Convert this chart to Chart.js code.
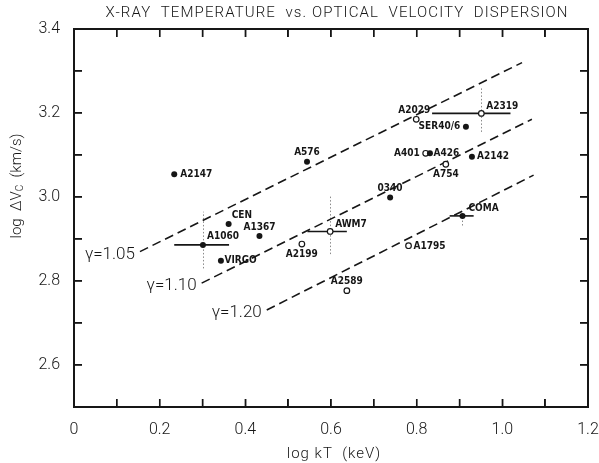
<!DOCTYPE html>
<html>
<head>
<meta charset="utf-8">
<script src="https://cdn.jsdelivr.net/npm/chart.js@4/dist/chart.umd.min.js"></script>
<style>
  html, body { margin: 0; padding: 0; background: #fff; }
  #wrap { position: relative; width: 599px; height: 463px; }
  #wrap canvas { display: block; }
  #box { position: absolute; left: 0; top: 0; width: 0; height: 0;
         border: 2px solid #161616; box-sizing: border-box; pointer-events: none; }
</style>
</head>
<body>
<div id="wrap">
  <canvas id="chart" width="599" height="463"></canvas>
  <div id="box"></div>
</div>
<script>
/* ===== DATA ===== */
const filledNames = ["A2147", "A576", "CEN", "A1060", "A1367", "VIRGO", "0340", "A426", "A2142", "SER40/6", "COMA"];
const filledX = [0.234, 0.544, 0.361, 0.301, 0.433, 0.343, 0.738, 0.831, 0.929, 0.915, 0.907];
const filledY = [3.054, 3.084, 2.936, 2.886, 2.907, 2.848, 2.999, 3.104, 3.096, 3.167, 2.955];

const openNames = ["A2199", "AWM7", "A2589", "A1795", "A401", "A754", "A2029", "A2319"];
const openX = [0.532, 0.598, 0.637, 0.781, 0.821, 0.868, 0.799, 0.951];
const openY = [2.888, 2.918, 2.777, 2.884, 3.104, 3.078, 3.185, 3.199];

// horizontal error bars
const errNames = ["A1060", "AWM7", "COMA", "A2319"];
const errX0 = [0.234, 0.545, 0.877, 0.836];
const errX1 = [0.362, 0.637, 0.933, 1.019];
const errY = [2.886, 2.918, 2.955, 3.199];

// dotted vertical ranges
const dotX = [0.301, 0.598, 0.907, 0.951];
const dotY0 = [2.830, 2.864, 2.932, 3.155];
const dotY1 = [2.965, 3.001, 2.962, 3.263];

// model lines (gamma)
const gammaLabels = ["\u03B3=1.05", "\u03B3=1.10", "\u03B3=1.20"];
const gammaX0 = [0.154, 0.298, 0.450];
const gammaY0 = [2.870, 2.795, 2.731];
const gammaX1 = [1.046, 1.069, 1.073];
const gammaY1 = [3.320, 3.185, 3.052];

const xTicks = ["0", "0.2", "0.4", "0.6", "0.8", "1.0", "1.2"];
const yTicks = ["2.6", "2.8", "3.0", "3.2", "3.4"];

const X_MIN = 0, X_MAX = 1.2, Y_MIN = 2.5, Y_MAX = 3.4;

/* ===== LABEL PLACEMENT (px offsets from the point) ===== */
const labelPlace = {
  "A2147": [6, 0, "left"], "A576": [0, -9, "center"], "CEN": [3, -8.5, "left"],
  "A1060": [4, -8.7, "left"], "A1367": [0, -9, "center"], "VIRGO": [3.5, 0, "left"],
  "0340": [0, -9.5, "center"], "A426": [3.6, 0, "left"], "A2142": [5, 0, "left"],
  "SER40/6": [-5.7, 0, "right"], "COMA": [6, -7.5, "left"],
  "A2199": [0, 10, "center"], "AWM7": [5, -7, "left"], "A2589": [0, -9, "center"],
  "A1795": [5, 1, "left"], "A401": [-6, 0, "right"], "A754": [0, 10.5, "center"],
  "A2029": [-2, -9, "center"], "A2319": [5, -7, "left"]
};

const INK = "#161616";
const LIGHT = "Roboto, 'DejaVu Sans', sans-serif";
const TICK_LEN = -8; // negative = ticks point into the plot

/* ===== PLUGIN ===== */
const figurePlugin = {
  id: "figure",
  beforeDatasetsDraw(chart) {
    const { ctx, scales: { x, y } } = chart;
    ctx.save();
    // dotted vertical ranges
    ctx.strokeStyle = "#8a8a8a";
    ctx.lineWidth = 1;
    ctx.setLineDash([1.5, 2]);
    dotX.forEach((v, i) => {
      const px = Math.round(x.getPixelForValue(v)) + 0.5;
      ctx.beginPath();
      ctx.moveTo(px, y.getPixelForValue(dotY0[i]));
      ctx.lineTo(px, y.getPixelForValue(dotY1[i]));
      ctx.stroke();
    });
    // horizontal error bars
    ctx.setLineDash([]);
    ctx.strokeStyle = INK;
    ctx.lineWidth = 1.6;
    errNames.forEach((n, i) => {
      const py = y.getPixelForValue(errY[i]);
      ctx.beginPath();
      ctx.moveTo(x.getPixelForValue(errX0[i]), py);
      ctx.lineTo(x.getPixelForValue(errX1[i]), py);
      ctx.stroke();
    });
    ctx.restore();
  },
  afterDraw(chart) {
    const { ctx, scales: { x, y } } = chart;

    // inward ticks, filled, from the scale pixels
    const L = x.getPixelForValue(X_MIN), R = x.getPixelForValue(X_MAX);
    const T = y.getPixelForValue(Y_MAX), B = y.getPixelForValue(Y_MIN);
    ctx.save();
    ctx.fillStyle = INK;
    x.ticks.forEach(t => {
      const px = x.getPixelForValue(t.value);
      if (px <= L + 2 || px >= R - 2) return;
      ctx.fillRect(px - 0.7, B - 8, 1.4, 8);
      ctx.fillRect(px - 0.7, T, 1.4, 8);
    });
    y.ticks.forEach(t => {
      const py = y.getPixelForValue(t.value);
      if (py <= T + 2 || py >= B - 2) return;
      ctx.fillRect(L, py - 0.7, 8, 1.4);
      ctx.fillRect(R - 8, py - 0.7, 8, 1.4);
    });
    ctx.restore();

    ctx.save();
    ctx.fillStyle = INK;
    ctx.textBaseline = "middle";

    // title
    ctx.font = "300 15px " + LIGHT;
    ctx.letterSpacing = "1.1px";
    ctx.textAlign = "center";
    ctx.fillText("X-RAY  TEMPERATURE  vs. OPTICAL  VELOCITY  DISPERSION", 337, 13);

    // x axis title
    ctx.letterSpacing = "1px";
    ctx.fillText("log kT  (keV)", 334, 454);
    ctx.letterSpacing = "0px";

    // y axis title (rotated, with subscript)
    ctx.save();
    ctx.translate(17, 186);
    ctx.rotate(-Math.PI / 2);
    ctx.textAlign = "left";
    const big = "300 15px " + LIGHT;
    const small = "300 10px " + LIGHT;
    const parts = [["log  \u0394V", big, 0], ["C", small, 3], ["  (km/s)", big, 0]];
    let w = 0;
    parts.forEach(p => { ctx.font = p[1]; w += ctx.measureText(p[0]).width; });
    let cx = -w / 2;
    parts.forEach(p => {
      ctx.font = p[1];
      ctx.fillText(p[0], cx, p[2]);
      cx += ctx.measureText(p[0]).width;
    });
    ctx.restore();

    // gamma labels at the start of each line
    ctx.font = "300 17px " + LIGHT;
    ctx.textAlign = "right";
    gammaLabels.forEach((g, i) => {
      ctx.fillText(g, x.getPixelForValue(gammaX0[i]) - 5, y.getPixelForValue(gammaY0[i]) + 3);
    });

    // point labels
    ctx.font = "bold 10px 'DejaVu Sans Condensed', 'DejaVu Sans', sans-serif";
    const put = (names, xs, ys) => names.forEach((n, i) => {
      const p = labelPlace[n];
      ctx.textAlign = p[2];
      ctx.fillText(n, x.getPixelForValue(xs[i]) + p[0], y.getPixelForValue(ys[i]) + p[1]);
    });
    put(filledNames, filledX, filledY);
    put(openNames, openX, openY);

    ctx.restore();
  },
  afterRender(chart) {
    // frame box placed on the chart area
    const a = chart.chartArea;
    const box = document.getElementById("box");
    box.style.left = (a.left - 1) + "px";
    box.style.top = (a.top - 1) + "px";
    box.style.width = (a.right - a.left + 2) + "px";
    box.style.height = (a.bottom - a.top + 2) + "px";
  }
};

/* ===== CHART ===== */
const toPts = (xs, ys) => xs.map((v, i) => ({ x: v, y: ys[i] }));
const tenths = v => Math.round(v * 10);

const datasets = [
  {
    label: "filled",
    data: toPts(filledX, filledY),
    pointRadius: 3,
    pointBackgroundColor: INK,
    pointBorderWidth: 0,
    order: 0
  },
  {
    label: "open",
    data: toPts(openX, openY),
    pointRadius: 2.8,
    pointBackgroundColor: "#fff",
    pointBorderColor: INK,
    pointBorderWidth: 1.2,
    order: 0
  }
];
gammaLabels.forEach((g, i) => {
  datasets.push({
    label: g,
    data: [{ x: gammaX0[i], y: gammaY0[i] }, { x: gammaX1[i], y: gammaY1[i] }],
    showLine: true,
    borderColor: INK,
    borderWidth: 1.6,
    borderDash: [9, 5],
    pointRadius: 0,
    order: 2
  });
});

const edgeGrid = {
  display: true,
  drawOnChartArea: false,
  drawTicks: true,
  tickLength: TICK_LEN,
  color: INK,
  lineWidth: 1.4
};
const edgeBorder = { display: true, color: INK, width: 2 };

new Chart(document.getElementById("chart"), {
  type: "scatter",
  data: { datasets },
  plugins: [figurePlugin],
  options: {
    responsive: false,
    animation: false,
    layout: { padding: { top: 29, right: 11, left: 0, bottom: 0 } },
    plugins: { legend: { display: false }, tooltip: { enabled: false } },
    scales: {
      x: {
        type: "linear",
        position: "bottom",
        min: X_MIN, max: X_MAX,
        afterFit: s => { s.height = 56; s.paddingLeft = 0; s.paddingRight = 0; },
        grid: edgeGrid,
        border: edgeBorder,
        ticks: {
          stepSize: 0.1,
          autoSkip: false,
          maxRotation: 0,
          padding: 13 - TICK_LEN,
          color: INK,
          font: { family: LIGHT, size: 16, weight: 300 },
          callback: v => tenths(v) % 2 === 0 ? xTicks[tenths(v) / 2] : ""
        }
      },
      x2: {
        type: "linear",
        position: "top",
        min: X_MIN, max: X_MAX,
        afterFit: s => { s.height = 0; s.paddingLeft = 0; s.paddingRight = 0; },
        grid: edgeGrid,
        border: edgeBorder,
        ticks: { stepSize: 0.1, autoSkip: false, maxRotation: 0, callback: () => "" }
      },
      y: {
        type: "linear",
        position: "left",
        min: Y_MIN, max: Y_MAX,
        afterFit: s => { s.width = 74; s.paddingTop = 0; s.paddingBottom = 0; },
        grid: edgeGrid,
        border: edgeBorder,
        ticks: {
          stepSize: 0.1,
          autoSkip: false,
          padding: 14 - TICK_LEN,
          color: INK,
          font: { family: LIGHT, size: 16, weight: 300 },
          callback: v => (tenths(v) % 2 === 0 && tenths(v) > 25) ? yTicks[(tenths(v) - 26) / 2] : ""
        }
      },
      y2: {
        type: "linear",
        position: "right",
        min: Y_MIN, max: Y_MAX,
        afterFit: s => { s.width = 0; s.paddingTop = 0; s.paddingBottom = 0; },
        grid: edgeGrid,
        border: edgeBorder,
        ticks: { stepSize: 0.1, autoSkip: false, callback: () => "" }
      }
    }
  }
});
</script>
</body>
</html>
